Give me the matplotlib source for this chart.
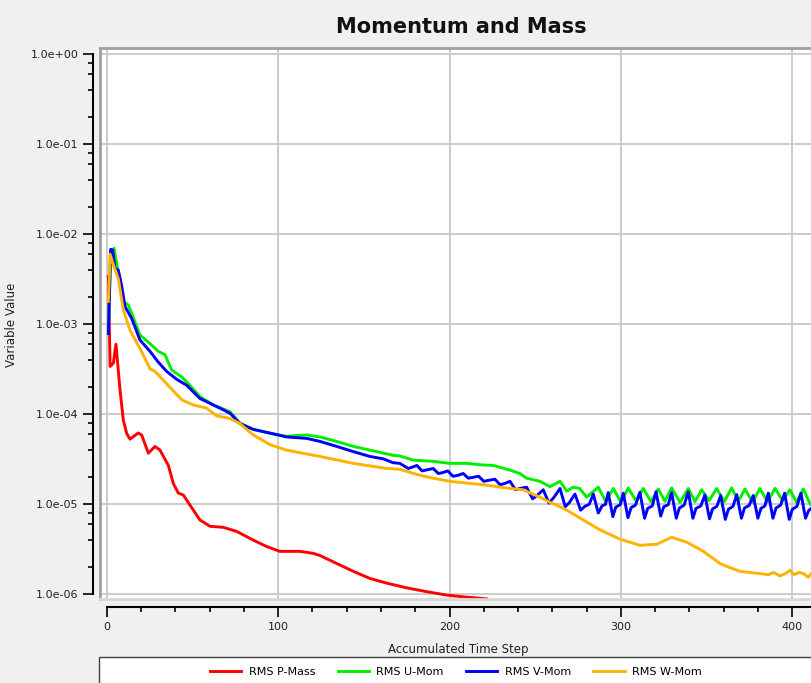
import matplotlib.pyplot as plt
from matplotlib.patches import Rectangle
from matplotlib.ticker import LogLocator, MultipleLocator, NullFormatter

passos_p = [1, 2, 3.9, 5.4, 7.8, 9.7, 11.7, 13.6, 18.4, 20.4, 24.3, 28.2, 31.1, 36, 38.9, 41.8,
            44.7, 48.6, 54.4, 60.3, 68, 75.8, 85.5, 93.3, 101, 112.8, 120.5, 124.4, 134.2,
            143.9, 153.6, 163.4, 175, 186.7, 198.4, 210, 221.7]
rms_p = [3.4e-3, 3.4e-4, 3.7e-4, 6.0e-4, 1.85e-4, 8.6e-5, 6.1e-5, 5.3e-5, 6.2e-5, 5.9e-5, 3.7e-5,
         4.4e-5, 4.0e-5, 2.7e-5, 1.7e-5, 1.33e-5, 1.27e-5, 9.8e-6, 6.7e-6, 5.7e-6, 5.55e-6, 5.0e-6,
         4.0e-6, 3.4e-6, 3.0e-6, 3.0e-6, 2.85e-6, 2.7e-6, 2.2e-6, 1.8e-6, 1.5e-6, 1.33e-6, 1.18e-6,
         1.07e-6, 0.98e-6, 0.93e-6, 0.89e-6]

passos_u = [1, 2.3, 4.3, 6.8, 9.7, 12.6, 15.5, 19.4, 25.3, 30.1, 34, 37.9, 43.8, 48.6, 54.4, 62.2,
            71.9, 77.7, 85.5, 100, 105, 110, 116.7, 124.4, 134.2, 143.9, 153.6, 167.2, 171, 178.9,
            190.5, 200.3, 210, 218, 225.6, 235.3, 241, 245, 252.8, 258.6, 264.5, 268.4, 272, 276,
            280, 286.8, 291.2, 295.6, 300, 304.3, 308.7, 313.1, 317.5, 321.8, 325.7, 329.6, 334.5,
            339.3, 343.2, 347.1, 351.5, 355.9, 360.3, 364.6, 368.5, 372.4, 376.8, 381.1, 385.5,
            389.9, 394.3, 398.6, 402.5, 406.4, 410.5]
rms_u = [8.5e-4, 5.5e-3, 7.0e-3, 3.7e-3, 1.8e-3, 1.64e-3, 1.2e-3, 7.6e-4, 6.1e-4, 5.0e-4, 4.6e-4,
         3.1e-4, 2.6e-4, 2.1e-4, 1.57e-4, 1.27e-4, 1.07e-4, 8.0e-5, 6.8e-5, 5.9e-5, 5.7e-5, 5.8e-5,
         5.9e-5, 5.6e-5, 5.0e-5, 4.4e-5, 4.0e-5, 3.5e-5, 3.45e-5, 3.1e-5, 3.0e-5, 2.85e-5, 2.85e-5,
         2.75e-5, 2.7e-5, 2.4e-5, 2.2e-5, 1.95e-5, 1.8e-5, 1.57e-5, 1.8e-5, 1.4e-5, 1.55e-5, 1.5e-5,
         1.2e-5, 1.55e-5, 1.07e-5, 1.5e-5, 1.05e-5, 1.52e-5, 1.1e-5, 1.5e-5, 1.07e-5, 1.48e-5,
         1.08e-5, 1.52e-5, 1.05e-5, 1.5e-5, 1.07e-5, 1.45e-5, 1.1e-5, 1.5e-5, 1.07e-5, 1.52e-5,
         1.08e-5, 1.48e-5, 1.05e-5, 1.5e-5, 1.07e-5, 1.5e-5, 1.1e-5, 1.45e-5, 1.05e-5, 1.48e-5,
         1.0e-5]

passos_v = [1, 2.3, 3.5, 4.8, 6.8, 8.7, 10.7, 14.6, 19.4, 25.3, 30.1, 35, 40.8, 46.7, 54.4, 62.2,
            66.1, 71.9, 77.7, 85.5, 100, 105, 116.7, 124.4, 134.2, 143.9, 153.6, 161.4, 167, 171,
            176, 181, 184, 190.5, 193.5, 196, 199, 202, 205, 208, 211, 214, 217, 220, 223, 226.5,
            229.5, 232, 235.3, 238.5, 241, 245, 248.5, 251, 254.7, 258, 261, 264.5, 267.5, 270,
            273.2, 276.5, 279, 281.5, 283.9, 286.8, 289, 291,
            292.6, 295.3, 297, 299.6, 301.4, 304.1, 306, 308.5, 311.1, 313.8, 315.6, 318.3,
            320.5, 323.2, 325, 327.6, 329.6, 332.3, 334.1, 336.9, 339.3, 342, 343.8, 346.6,
            349, 351.7, 353.5, 356, 358.2, 360.9, 362.7, 365.4, 367.6, 370.3, 372.1, 374.8,
            377.2, 379.9, 381.7, 384, 386, 388.7, 390.5, 393.2, 395.5, 398.2, 400, 402.7,
            405, 407.7, 409.5, 411]
rms_v = [7.9e-4, 6.8e-3, 6.7e-3, 4.2e-3, 4.0e-3, 2.7e-3, 1.57e-3, 1.16e-3, 6.7e-4, 5.0e-4, 3.8e-4,
         3.0e-4, 2.45e-4, 2.1e-4, 1.5e-4, 1.27e-4, 1.17e-4, 1.03e-4, 7.9e-5, 6.8e-5, 5.9e-5, 5.6e-5,
         5.4e-5, 5.0e-5, 4.4e-5, 3.85e-5, 3.4e-5, 3.2e-5, 2.9e-5, 2.85e-5,
         2.5e-5, 2.7e-5, 2.35e-5, 2.5e-5, 2.2e-5, 2.25e-5, 2.35e-5, 2.05e-5, 2.1e-5, 2.2e-5,
         1.95e-5, 2.0e-5, 2.05e-5, 1.8e-5, 1.85e-5, 1.9e-5, 1.65e-5, 1.7e-5, 1.8e-5, 1.45e-5,
         1.5e-5, 1.55e-5, 1.15e-5, 1.25e-5, 1.45e-5, 1.03e-5, 1.2e-5, 1.5e-5, 9.4e-6, 1.05e-5,
         1.3e-5, 8.6e-6, 9.5e-6, 1.0e-5, 1.3e-5, 8.0e-6, 9.6e-6, 1.0e-5,
         1.35e-5, 7.3e-6, 9.3e-6, 9.9e-6, 1.33e-5, 7.1e-6, 9.2e-6, 9.8e-6, 1.36e-5, 7.0e-6,
         9.0e-6, 9.6e-6, 1.38e-5, 7.4e-6, 9.4e-6, 9.9e-6, 1.35e-5, 7.0e-6, 9.1e-6, 9.8e-6,
         1.38e-5, 7.0e-6, 9.0e-6, 9.6e-6, 1.27e-5, 6.9e-6, 8.9e-6, 9.5e-6, 1.25e-5, 6.8e-6,
         8.8e-6, 9.5e-6, 1.28e-5, 7.0e-6, 9.1e-6, 9.7e-6, 1.25e-5, 7.0e-6, 9.0e-6, 9.6e-6,
         1.33e-5, 7.0e-6, 9.1e-6, 9.8e-6, 1.33e-5, 6.8e-6, 8.8e-6, 9.5e-6, 1.33e-5, 7.0e-6,
         8.5e-6, 9.0e-6]

passos_w = [1, 2, 3.9, 6.8, 9.7, 13.6, 19.4, 25.3, 28.2, 33, 37.9, 43.8, 50.5, 58.3, 64.2, 71.9,
            77.7, 85.5, 95.3, 105, 124.4, 143.9, 163.4, 171, 182.8, 190.5, 200.3, 219.7, 235.3,
            243, 252.8, 258.6, 262.5, 268.4, 278, 287.8, 299.5, 311.2, 320.9, 329.6, 333, 338.4,
            348.1, 357.8, 363, 369.5, 375, 381.1, 386, 389, 392.8, 396, 398.7, 401, 404, 406.4,
            409.3, 411]
rms_w = [1.8e-3, 6.0e-3, 4.6e-3, 3.2e-3, 1.45e-3, 8.6e-4, 5.4e-4, 3.2e-4, 3.0e-4, 2.4e-4, 1.9e-4,
         1.45e-4, 1.27e-4, 1.17e-4, 9.6e-5, 9.0e-5, 7.9e-5, 5.9e-5, 4.6e-5, 4.0e-5, 3.4e-5, 2.85e-5,
         2.5e-5, 2.45e-5, 2.1e-5, 1.95e-5, 1.8e-5, 1.65e-5, 1.5e-5, 1.45e-5, 1.2e-5, 1.05e-5,
         9.8e-6, 8.6e-6, 6.7e-6, 5.2e-6, 4.1e-6, 3.5e-6, 3.6e-6, 4.3e-6, 4.1e-6, 3.8e-6, 3.0e-6,
         2.2e-6, 2.0e-6, 1.8e-6, 1.75e-6, 1.7e-6, 1.65e-6, 1.75e-6, 1.6e-6, 1.7e-6, 1.85e-6,
         1.65e-6, 1.75e-6, 1.7e-6, 1.55e-6, 1.7e-6]

y_ticks = [1e-6, 1e-5, 1e-4, 1e-3, 1e-2, 1e-1, 1e0]
x_ticks = [0, 100, 200, 300, 400]

# Figura
fig = plt.figure(figsize=(8.11, 6.83), dpi=100, facecolor='#f0f0f0')
ax = fig.add_axes([100/811, 1 - 599/683, 711/811, 551/683])
ax.set_facecolor('white')

ax.plot(passos_p, rms_p, color='#ff0000', lw=2.1, label='RMS P-Mass')
ax.plot(passos_u, rms_u, color='#00ee00', lw=2.1, label='RMS U-Mom')
ax.plot(passos_v, rms_v, color='#0000ff', lw=2.1, label='RMS V-Mom')
ax.plot(passos_w, rms_w, color='#ffb300', lw=2.1, label='RMS W-Mom')

ax.set_yscale('log')
ax.set_xlim(-3.9, 410.9)
ax.set_ylim(8.87e-7, 1.175)

ax.set_yticks(y_ticks)
ax.set_yticklabels(['%.1e' % v for v in y_ticks])
ax.yaxis.set_minor_locator(LogLocator(base=10, subs=[2, 4, 6, 8]))
ax.yaxis.set_minor_formatter(NullFormatter())
ax.set_xticks(x_ticks)
ax.xaxis.set_minor_locator(MultipleLocator(20))

ax.grid(True, which='major', color='#c8c8c8', lw=1.3)
ax.set_axisbelow(True)

# Eixos deslocados como no monitor do solver
ax.spines['left'].set_position(('outward', 5))
ax.spines['left'].set_bounds(1e-6, 1)
ax.spines['left'].set_linewidth(1.5)
ax.spines['bottom'].set_position(('outward', 6))
ax.spines['bottom'].set_bounds(0, 420)
ax.spines['bottom'].set_linewidth(1.5)
ax.spines['right'].set_visible(False)
ax.spines['top'].set_color('#a0a0a0')
ax.spines['top'].set_linewidth(2)
ax.plot([0, 0], [0, 1], transform=ax.transAxes, color='#a0a0a0', lw=2, clip_on=False)
ax.plot([0, 1], [0, 0], transform=ax.transAxes, color='#d8d8d8', lw=2, clip_on=False)

ax.tick_params(which='major', length=7.5, width=1.2, labelsize=8, labelcolor='#202020', pad=3)
ax.tick_params(which='minor', length=3.8, width=1.2)

ax.set_xlabel('Accumulated Time Step', fontsize=8.5, color='#202020')
ax.xaxis.set_label_coords(0.5035, -0.08)
ax.set_ylabel('Variable Value', fontsize=8.5, color='#202020')
ax.yaxis.set_label_coords(-0.115, 0.497)

fig.text(461/811, 1 - 27/683, 'Momentum and Mass', ha='center', va='center',
         fontsize=15, fontweight='bold', color='#111111')

# Caixa da legenda
fig.add_artist(Rectangle((99/811, -0.02), 1, (683 - 657)/683 + 0.02, transform=fig.transFigure,
                         facecolor='white', edgecolor='#404040', lw=1))
fig.legend(loc='center', bbox_to_anchor=(456/811, 1 - 672/683), ncol=4, frameon=False,
           fontsize=8, handlelength=2.8, handletextpad=0.7, columnspacing=2.0)

plt.savefig('out.png', dpi=100, facecolor=fig.get_facecolor())
